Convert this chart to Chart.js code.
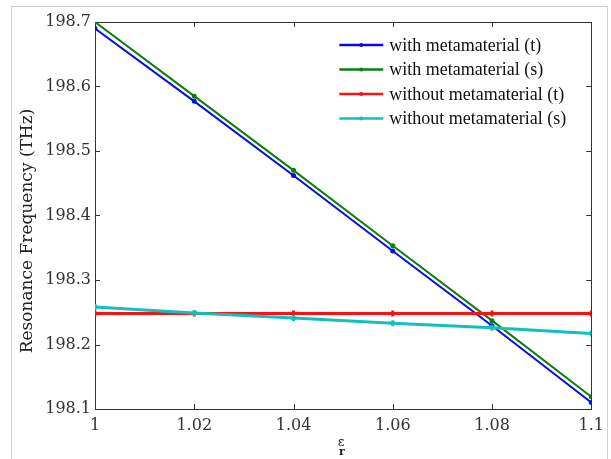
<!DOCTYPE html>
<html>
<head>
<meta charset="utf-8">
<script src="https://cdn.jsdelivr.net/npm/chart.js@4.4.1/dist/chart.umd.min.js"></script>
<style>
html, body { margin: 0; padding: 0; background: #fff; }
</style>
</head>
<body>
<canvas id="graficoRessonancia" width="611" height="459"></canvas>
<script>
// valores
const epsilonR = [1, 1.02, 1.04, 1.06, 1.08, 1.1];
const comMetaT = [198.690, 198.577, 198.462, 198.345, 198.229, 198.110];
const comMetaS = [198.700, 198.585, 198.470, 198.353, 198.237, 198.119];
const semMetaT = [198.248, 198.248, 198.248, 198.248, 198.248, 198.248];
const semMetaS = [198.258, 198.249, 198.241, 198.233, 198.226, 198.217];

const xTicks = [1, 1.02, 1.04, 1.06, 1.08, 1.1];
const xTickLabels = ['1', '1.02', '1.04', '1.06', '1.08', '1.1'];
const yTicks = [198.1, 198.2, 198.3, 198.4, 198.5, 198.6, 198.7];
const yTickLabels = ['198.1', '198.2', '198.3', '198.4', '198.5', '198.6', '198.7'];

const nomes = ['with metamaterial (t)', 'with metamaterial (s)', 'without metamaterial (t)', 'without metamaterial (s)'];
const cores = ['#0a0af0', '#0a800a', '#ff1010', '#10c0c0'];

function pontos(valores) {
    return epsilonR.map((x, i) => ({ x: x, y: valores[i] }));
}

// moldura, ticks para dentro, titulos e legenda
const molduraPlugin = {
    id: 'moldura',
    beforeDraw(chart) {
        const ctx = chart.ctx;
        ctx.save();
        ctx.fillStyle = '#fff';
        ctx.fillRect(0, 0, chart.width, chart.height);
        ctx.strokeStyle = '#cfcfcf';
        ctx.lineWidth = 1;
        ctx.beginPath();
        ctx.moveTo(11.5, 459);
        ctx.lineTo(11.5, 6.5);
        ctx.lineTo(607.5, 6.5);
        ctx.lineTo(607.5, 459);
        ctx.stroke();
        ctx.restore();
    },
    beforeDatasetsDraw(chart) {
        const ctx = chart.ctx;
        const a = chart.chartArea;
        const sx = chart.scales.x, sy = chart.scales.y;
        ctx.save();
        ctx.strokeStyle = '#333';
        ctx.lineWidth = 1;
        ctx.strokeRect(Math.round(a.left) + 0.5, Math.round(a.top) + 0.5,
            Math.round(a.right - a.left), Math.round(a.bottom - a.top));
        ctx.beginPath();
        xTicks.forEach(v => {
            const px = Math.round(sx.getPixelForValue(v)) + 0.5;
            ctx.moveTo(px, a.bottom); ctx.lineTo(px, a.bottom - 5);
            ctx.moveTo(px, a.top); ctx.lineTo(px, a.top + 5);
        });
        yTicks.forEach(v => {
            const py = Math.round(sy.getPixelForValue(v)) + 0.5;
            ctx.moveTo(a.left, py); ctx.lineTo(a.left + 5, py);
            ctx.moveTo(a.right, py); ctx.lineTo(a.right - 5, py);
        });
        ctx.stroke();

        // titulo do eixo y
        ctx.fillStyle = '#222';
        ctx.font = '17px "DejaVu Serif"';
        ctx.textAlign = 'center';
        ctx.textBaseline = 'middle';
        ctx.translate(28, 231);
        ctx.rotate(-Math.PI / 2);
        ctx.fillText('Resonance Frequency (THz)', 0, 0);
        ctx.restore();

        // titulo do eixo x (epsilon r)
        ctx.save();
        ctx.fillStyle = '#222';
        ctx.textAlign = 'center';
        ctx.textBaseline = 'middle';
        ctx.font = '13px "DejaVu Serif"';
        ctx.fillText('ε', 341, 443);
        ctx.font = 'bold 11px "DejaVu Serif"';
        ctx.fillText('r', 342, 452);
        ctx.restore();
    },
    afterDraw(chart) {
        const ctx = chart.ctx;
        const a = chart.chartArea;
        const x0 = a.right - 252;
        ctx.save();
        ctx.font = '18px "Liberation Serif"';
        ctx.textBaseline = 'middle';
        ctx.textAlign = 'left';
        chart.data.datasets.forEach((ds, i) => {
            const y = a.top + 23 + i * 24.5;
            ctx.strokeStyle = ds.borderColor;
            ctx.lineWidth = 2.5;
            ctx.beginPath();
            ctx.moveTo(x0, y);
            ctx.lineTo(x0 + 44, y);
            ctx.stroke();
            ctx.fillStyle = ds.borderColor;
            ctx.beginPath();
            ctx.arc(x0 + 22, y, 2, 0, Math.PI * 2);
            ctx.fill();
            ctx.fillStyle = '#111';
            ctx.fillText(ds.label, x0 + 50, y + 1);
        });
        ctx.restore();
    }
};

const graficoRessonancia = new Chart(document.getElementById('graficoRessonancia'), {
    type: 'line',
    data: {
        datasets: [
            { label: nomes[0], data: pontos(comMetaT), borderColor: cores[0], backgroundColor: cores[0], borderWidth: 2, pointRadius: 1.5, pointStyle: 'circle', order: 4 },
            { label: nomes[1], data: pontos(comMetaS), borderColor: cores[1], backgroundColor: cores[1], borderWidth: 2, pointRadius: 1.5, pointStyle: 'circle', order: 3 },
            { label: nomes[2], data: pontos(semMetaT), borderColor: cores[2], backgroundColor: cores[2], borderWidth: 3, pointRadius: 3, pointStyle: 'cross', order: 2 },
            { label: nomes[3], data: pontos(semMetaS), borderColor: cores[3], backgroundColor: cores[3], borderWidth: 3, pointRadius: 3, pointStyle: 'cross', order: 1 }
        ]
    },
    options: {
        responsive: false,
        animation: false,
        devicePixelRatio: 1,
        layout: { padding: { top: 22, right: 18, left: 0, bottom: 0 } },
        plugins: {
            legend: { display: false },
            tooltip: { enabled: false }
        },
        scales: {
            x: {
                type: 'linear',
                min: 1,
                max: 1.1,
                afterBuildTicks: scale => { scale.ticks = xTicks.map(v => ({ value: v })); },
                afterFit: scale => { scale.height = 50; },
                grid: { display: false, drawTicks: false },
                border: { display: false },
                ticks: {
                    padding: 7,
                    color: '#333',
                    font: { family: 'DejaVu Serif', size: 16 },
                    maxRotation: 0,
                    callback: (v, i) => xTickLabels[i]
                }
            },
            y: {
                min: 198.1,
                max: 198.7,
                afterBuildTicks: scale => { scale.ticks = yTicks.map(v => ({ value: v })); },
                afterFit: scale => { scale.width = 95; },
                grid: { display: false, drawTicks: false },
                border: { display: false },
                ticks: {
                    padding: 4,
                    color: '#333',
                    font: { family: 'DejaVu Serif', size: 16 },
                    callback: (v, i) => yTickLabels[i]
                }
            }
        }
    },
    plugins: [molduraPlugin]
});
</script>
</body>
</html>
